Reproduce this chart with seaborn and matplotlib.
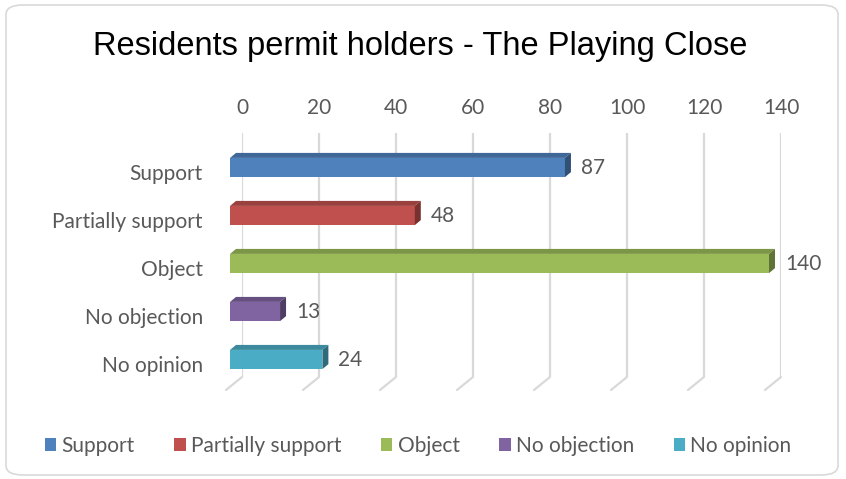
import matplotlib
matplotlib.use("Agg")
import matplotlib.pyplot as plt
import seaborn as sns
import pandas as pd
import numpy as np
from matplotlib.patches import Polygon, FancyBboxPatch, Patch
from matplotlib.lines import Line2D
from matplotlib.transforms import IdentityTransform, ScaledTranslation

categories = ["Support", "Partially support", "Object", "No objection", "No opinion"]
values = [87, 48, 140, 13, 24]
colors = ["#4F81BD", "#C0504D", "#9BBB59", "#8064A2", "#4BACC6"]
x_ticks = [0, 20, 40, 60, 80, 100, 120, 140]
title = "Residents permit holders - The Playing Close"

sns.set_theme(style="white")
plt.rcParams["font.family"] = ["Lato", "DejaVu Sans"]
TXT = "#595959"
FS = 15

W, H = 846, 479
fig = plt.figure(figsize=(W / 100, H / 100), dpi=100)

def fx(px):
    return px / W

def fy(py):
    return 1 - py / H

# chart border
fig.patches.append(FancyBboxPatch((fx(6), fy(475)), fx(832), (475 - 5) / H,
                                  boxstyle="round,pad=0,rounding_size=0.02", transform=fig.transFigure,
                                  facecolor="white", edgecolor="#D9D9D9", linewidth=1.2, zorder=-10))

# back wall axes (gridlines + top tick labels)
bx0, bx1, by0, by1 = 242, 781, 133, 377
axb = fig.add_axes([fx(bx0), fy(by1), fx(bx1 - bx0), fy(by0) - fy(by1)], zorder=0)
axb.set_xlim(0, 140)
axb.set_ylim(0, 1)
axb.set_xticks(x_ticks)
axb.set_xticklabels([str(t) for t in x_ticks], color=TXT, fontsize=FS)
axb.xaxis.tick_top()
axb.tick_params(axis="x", length=0, pad=11)
axb.set_yticks([])
axb.grid(axis="x", color="#D9D9D9", linewidth=1.6)
for s in axb.spines.values():
    s.set_visible(False)
axb.patch.set_alpha(0)

# front axes (bars)
fx0, fx1, fy_top, fy_bot = 230, 769, 140, 390
ax = fig.add_axes([fx(fx0), fy(fy_bot), fx(fx1 - fx0), fy(fy_top) - fy(fy_bot)], zorder=1)
df = pd.DataFrame({"category": categories, "value": values})
sns.barplot(data=df, y="category", x="value", hue="category", palette=colors,
            width=0.4, legend=False, ax=ax, saturation=1, edgecolor="none")
ax.set_xlim(0, 140)
ax.set_ylim(4.635, -0.573)
ax.set_xlabel("")
ax.set_ylabel("")
ax.set_xticks([])
ax.tick_params(axis="y", length=0, pad=19.5, labelsize=FS, labelcolor=TXT)
for lab in ax.get_yticklabels():
    lab.set_transform(lab.get_transform() + ScaledTranslation(0, -4 / 100, fig.dpi_scale_trans))
for s in ax.spines.values():
    s.set_visible(False)
ax.patch.set_alpha(0)

# floor diagonals
fig.canvas.draw()
for t in x_ticks:
    xb, yb = axb.transData.transform((t, 0))
    fig.add_artist(Line2D([xb, xb - 16], [yb, yb - 13], transform=IdentityTransform(),
                          color="#D9D9D9", linewidth=1.6, zorder=0.5))

# 3D faces of bars
def darker(c, f):
    r, g, b = matplotlib.colors.to_rgb(c)
    return (r * f, g * f, b * f)

dx, dy = 6, 5
for bar in list(ax.patches):
    col = bar.get_facecolor()
    x0, y0 = bar.get_x(), bar.get_y()
    w, h = bar.get_width(), bar.get_height()
    (ax0, ayb) = ax.transData.transform((x0, y0 + h))
    (ax1, ayt) = ax.transData.transform((x0 + w, y0))
    top = Polygon([(ax0, ayt), (ax1, ayt), (ax1 + dx, ayt + dy), (ax0 + dx, ayt + dy)],
                  closed=True, transform=IdentityTransform(), facecolor=darker(col, 0.8),
                  edgecolor="none", zorder=2)
    side = Polygon([(ax1, ayb), (ax1, ayt), (ax1 + dx, ayt + dy), (ax1 + dx, ayb + dy)],
                   closed=True, transform=IdentityTransform(), facecolor=darker(col, 0.62),
                   edgecolor="none", zorder=2)
    fig.add_artist(top)
    fig.add_artist(side)

for cont in ax.containers:
    ax.bar_label(cont, labels=[str(v) for v in cont.datavalues.astype(int)], padding=11.5,
                 color=TXT, fontsize=FS)

fig.text(fx(420), fy(46), title, ha="center", va="center", fontsize=23.5, color="black",
         family=["Liberation Sans", "DejaVu Sans"])

handles = [Patch(facecolor=c, edgecolor="none") for c in colors]
fig.legend(handles, categories, loc="center", bbox_to_anchor=(fx(418), fy(446)), ncol=5,
           frameon=False, handlelength=0.55, handleheight=0.55, handletextpad=0.25,
           columnspacing=1.9, fontsize=FS, labelcolor=TXT)

fig.savefig("out.png", dpi=100)
